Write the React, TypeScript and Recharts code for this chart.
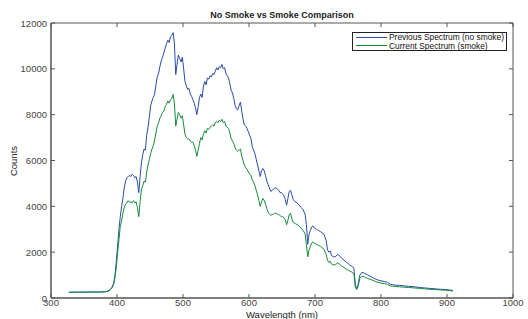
import React from 'react';
import { LineChart, Line, XAxis, YAxis, ReferenceArea } from 'recharts';

const wavelengths = [
  327, 340, 360, 375, 383, 388, 392, 395, 397, 399, 401, 403, 405, 407, 409, 411, 413, 415, 417, 419,
  421, 423, 425, 427, 429, 431, 433, 435, 437, 439, 441, 443, 445, 447, 449, 451, 453, 455, 457, 459,
  461, 463, 465, 467, 469, 471, 473, 475, 477, 479, 481, 483, 485, 487, 489, 491, 493, 495, 497, 499,
  501, 503, 505, 507, 509, 511, 513, 515, 517, 519, 521, 523, 525, 527, 529, 531, 533, 535, 537, 539,
  541, 543, 545, 547, 549, 551, 553, 555, 557, 559, 561, 563, 565, 567, 569, 571, 573, 575, 577, 579,
  581, 583, 585, 587, 589, 591, 593, 595, 597, 599, 601, 603, 605, 607, 609, 611, 613, 615, 617, 619,
  621, 623, 625, 627, 629, 631, 633, 635, 637, 639, 641, 643, 645, 647, 649, 651, 653, 655, 657, 659,
  661, 663, 665, 667, 670, 673, 676, 679, 682, 685, 687, 689, 691, 693, 695, 697, 699, 702, 705, 708,
  711, 714, 717, 719, 721, 723, 725, 728, 731, 734, 737, 740, 744, 748, 752, 756, 759, 761, 763, 765,
  768, 771, 775, 780, 785, 790, 795, 800, 805, 810, 814, 818, 822, 828, 835, 842, 850, 858, 866, 874,
  882, 890, 898, 905, 909,
];

// Previous Spectrum (no smoke)
const prevCounts = [
  250, 255, 258, 262, 275, 320, 450, 650, 1000, 1600, 2300, 3000, 3550, 3990, 4350, 4800, 5100, 5250, 5300, 5350,
  5300, 5400, 5350, 5250, 5300, 5050, 4600, 5300, 5900, 6250, 6500, 6450, 7100, 7450, 7900, 8400, 8600, 8750, 8900, 9300,
  9650, 9800, 10100, 10350, 10500, 10700, 10900, 11100, 11250, 11150, 11400, 11450, 11580, 11100, 9750, 10200, 10600, 10450, 10300, 10500,
  10000, 9450, 9250, 9100, 9150, 8900, 8800, 8650, 8500, 8300, 8000, 8350, 8750, 8900, 8750, 9250, 9450, 9300, 9600, 9550,
  9700, 9650, 9800, 9750, 9900, 10050, 9950, 10100, 10050, 10190, 10000, 10050, 9800, 9700, 9600, 9350, 9050, 8950, 8700, 8400,
  8250, 8200, 8400, 8550, 8150, 7800, 7550, 7500, 7400, 7250, 7100, 6950, 6600, 6450, 6300, 6050, 5800, 5550, 5300, 5550,
  5650, 5550, 5350, 5100, 4950, 4800, 4650, 4700, 4750, 4800, 4800, 4750, 4700, 4600, 4600, 4550, 4450, 4300, 4050, 4350,
  4650, 4700, 4500, 4300, 4200, 4150, 4050, 3950, 3850, 3650, 3200, 2350, 2800, 2950, 3100, 3150, 3050, 3000, 2950, 2900,
  2850, 2750, 2500, 2100, 2000, 2050, 1850, 1800, 1800, 1900, 1850, 1750, 1650, 1550, 1450, 1380, 1300, 600, 400, 550,
  1000, 1120, 1080, 1000, 930, 850, 790, 750, 720, 680, 600, 580, 560, 550, 530, 510, 490, 460, 440, 420,
  400, 380, 370, 345, 330,
];

// Current Spectrum (smoke)
const currCounts = [
  250, 255, 258, 262, 275, 310, 430, 600, 900, 1350, 2000, 2550, 3150, 3350, 3700, 3950, 4100, 4150, 4250, 4180,
  4200, 4150, 4250, 4150, 4200, 3950, 3550, 4200, 4750, 4900, 5100, 5050, 5500, 5800, 6050, 6300, 6500, 6650, 6900, 7200,
  7500, 7650, 7850, 7950, 8100, 8150, 8350, 8450, 8600, 8500, 8650, 8700, 8880, 8500, 7500, 7800, 8100, 8000, 7850, 7950,
  7550, 7150, 7000, 6950, 6950, 6850, 6800, 6800, 6650, 6450, 6180, 6450, 6750, 7000, 6900, 7150, 7300, 7200, 7400, 7350,
  7450, 7500, 7550, 7500, 7650, 7700, 7650, 7750, 7700, 7800, 7650, 7700, 7500, 7450, 7400, 7200, 6950, 6850, 6750, 6550,
  6450, 6400, 6450, 6500, 6200, 6000, 5800, 5700, 5600, 5500, 5400, 5350, 5150, 5050, 4900, 4700, 4500, 4250, 4000, 4200,
  4350, 4250, 4100, 3900, 3750, 3650, 3600, 3650, 3650, 3700, 3700, 3650, 3650, 3600, 3550, 3550, 3500, 3400, 3200, 3400,
  3650, 3700, 3450, 3300, 3250, 3200, 3150, 3050, 2950, 2800, 2300, 1800, 2100, 2250, 2400, 2450, 2380, 2350, 2300, 2250,
  2200, 2100, 1900, 1650, 1550, 1600, 1480, 1450, 1450, 1530, 1480, 1400, 1330, 1250, 1190, 1130, 1050, 500, 370, 480,
  860, 950, 920, 850, 800, 740, 690, 650, 630, 590, 530, 510, 500, 490, 470, 460, 440, 420, 400, 380,
  370, 350, 340, 320, 300,
];

const xTicks = [300, 400, 500, 600, 700, 800, 900, 1000];
const yTicks = [0, 2000, 4000, 6000, 8000, 10000, 12000];

const seriesNames = ['Previous Spectrum (no smoke)', 'Current Spectrum (smoke)'];
const seriesColors = ['#2a4aa8', '#178a3a'];

const data = wavelengths.map((w, i) => ({ wl: w, prev: prevCounts[i], curr: currCounts[i] }));

const W = 528;
const H = 319;
const M = { top: 23, right: 15, bottom: 0, left: 0 };
const Y_AXIS_W = 51;
const X_AXIS_H = 21;
const PLOT_W = W - M.left - M.right - Y_AXIS_W;
const PLOT_H = H - M.top - M.bottom - X_AXIS_H;
const FONT = '"Liberation Sans", Arial, sans-serif';
const AXIS = '#555';
const TEXT = '#444';

const XTick = ({ x, y, payload }: any) => (
  <g>
    <line x1={x} x2={x} y1={y} y2={y - 4} stroke={AXIS} />
    <line x1={x} x2={x} y1={y - PLOT_H} y2={y - PLOT_H + 4} stroke={AXIS} />
    <text x={x} y={y + 8} textAnchor="middle" fontSize={9.5} fill={TEXT} fontFamily={FONT}>
      {payload.value}
    </text>
  </g>
);

const YTick = ({ x, y, payload }: any) => (
  <g>
    <line x1={x} x2={x + 4} y1={y} y2={y} stroke={AXIS} />
    <line x1={x + PLOT_W} x2={x + PLOT_W - 4} y1={y} y2={y} stroke={AXIS} />
    <text x={x - 4} y={y + 3.5} textAnchor="end" fontSize={9.5} fill={TEXT} fontFamily={FONT}>
      {payload.value}
    </text>
  </g>
);

// legend box drawn over the plot, top right like the original
const LegendBox = () => (
  <div
    style={{
      position: 'absolute',
      left: 352,
      top: 32,
      border: '1px solid #222',
      background: '#fff',
      padding: '0 2px 0 3px',
      fontFamily: FONT,
      fontSize: 8.4,
      lineHeight: '8.5px',
      color: '#111',
    }}
  >
    {seriesNames.map((n, i) => (
      <div key={n} style={{ display: 'flex', alignItems: 'center', whiteSpace: 'nowrap', height: 8.5 }}>
        <span style={{ display: 'inline-block', width: 31, height: 1, background: seriesColors[i], marginRight: 2 }} />
        <span>{n}</span>
      </div>
    ))}
  </div>
);

export default function App() {
  return (
    <div style={{ position: 'absolute', left: 0, top: 0, width: W, height: H, background: '#fff', overflow: 'hidden' }}>
      <div
        style={{
          position: 'absolute',
          left: Y_AXIS_W,
          width: PLOT_W,
          top: 10,
          textAlign: 'center',
          fontFamily: FONT,
          fontWeight: 'bold',
          fontSize: 9,
          color: '#222',
        }}
      >
        No Smoke vs Smoke Comparison
      </div>
      <div
        style={{
          position: 'absolute',
          left: 13,
          top: M.top + PLOT_H / 2,
          transform: 'translate(-50%, -50%) rotate(-90deg)',
          fontFamily: FONT,
          fontSize: 9.5,
          color: '#222',
        }}
      >
        Counts
      </div>
      <div
        style={{
          position: 'absolute',
          left: Y_AXIS_W,
          width: PLOT_W,
          top: 309,
          textAlign: 'center',
          fontFamily: FONT,
          fontSize: 9.5,
          color: '#222',
        }}
      >
        Wavelength (nm)
      </div>
      <LineChart width={W} height={H} data={data} margin={M} style={{ position: 'absolute', left: 0, top: 0 }}>
        <XAxis
          dataKey="wl"
          type="number"
          domain={[300, 1000]}
          ticks={xTicks}
          allowDataOverflow
          height={X_AXIS_H}
          stroke={AXIS}
          tickLine={false}
          tickSize={0}
          tickMargin={0}
          tick={<XTick />}
          interval={0}
        />
        <YAxis
          type="number"
          domain={[0, 12000]}
          ticks={yTicks}
          allowDataOverflow
          width={Y_AXIS_W}
          stroke={AXIS}
          tickLine={false}
          tickSize={0}
          tickMargin={0}
          tick={<YTick />}
          interval={0}
        />
        <ReferenceArea x1={300} x2={1000} y1={0} y2={12000} stroke={AXIS} fill="none" fillOpacity={0} />
        <Line
          type="linear"
          dataKey="prev"
          name={seriesNames[0]}
          stroke={seriesColors[0]}
          strokeWidth={1}
          dot={false}
          isAnimationActive={false}
        />
        <Line
          type="linear"
          dataKey="curr"
          name={seriesNames[1]}
          stroke={seriesColors[1]}
          strokeWidth={1}
          dot={false}
          isAnimationActive={false}
        />
      </LineChart>
      <LegendBox />
    </div>
  );
}
